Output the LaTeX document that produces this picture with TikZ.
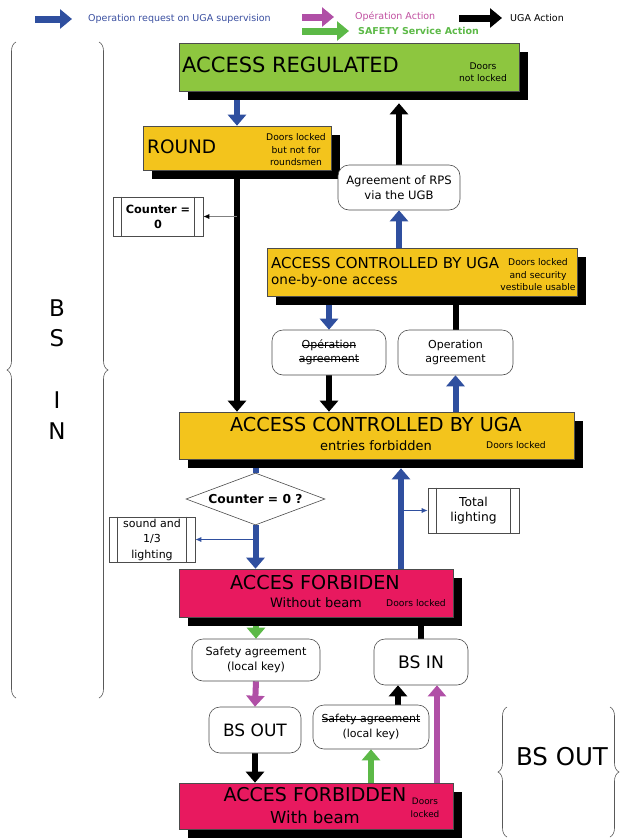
\documentclass[tikz,border=0pt]{standalone}
\usepackage{fontspec}
\setmainfont{DejaVu Sans}
\usepackage{tikz}
\usetikzlibrary{arrows.meta, calc, shadows, shapes.geometric, decorations.pathreplacing}
\definecolor{regreen}{HTML}{8DC63F}
\definecolor{rndyel}{HTML}{F3C41C}
\definecolor{forbpink}{HTML}{E8195F}
\definecolor{arrblue}{HTML}{2F4F9F}
\definecolor{arrpurp}{HTML}{B04FA6}
\definecolor{arrgreen}{HTML}{5CB947}
\definecolor{legblue}{HTML}{3A4FA0}
\definecolor{legpurp}{HTML}{C04FA0}
\newcommand{\setfs}[2]{\fontsize{#1}{#2}\selectfont}
\newlength{\strkw}
\newcommand{\strk}[1]{\settowidth{\strkw}{#1}\rlap{\rule[0.3em]{\strkw}{0.6pt}}#1}
\pgfdeclarelayer{back}
\pgfsetlayers{back,main}

\begin{document}
\begin{tikzpicture}[x=1pt, y=-1pt,
    statebox/.style n args={3}{draw=gray!60!black, line width=0.6pt, fill=#1, minimum width=#2, minimum height=#3, inner sep=0pt,
      drop shadow={shadow xshift=9pt, shadow yshift=-9pt, fill=black, opacity=1}},
    rbox/.style 2 args={draw=gray!60!black, line width=0.6pt, fill=white, rounded corners=11pt, minimum width=#1, minimum height=#2, inner sep=0pt, align=center},
    pbox/.style 2 args={draw=gray!60!black, line width=0.6pt, fill=white, minimum width=#1, minimum height=#2, inner sep=0pt, align=center},
    dia/.style={diamond, aspect=2.7, draw=gray!60!black, line width=0.6pt, fill=white, minimum width=139pt, minimum height=52pt, inner sep=0pt},
    ttl/.style={inner sep=0pt},
    note/.style={inner sep=0pt, align=center, font=\setfs{9.2}{12.5}},
    lgtext/.style={inner sep=0pt, anchor=west, font=\setfs{9.5}{12}},
    legarr/.style={line width=7pt, -{Triangle[width=19pt,length=12pt]}},
    bluearr/.style={draw=arrblue, line width=6pt, -{Triangle[width=18pt,length=11pt]}},
    blackarr/.style={draw=black, line width=6pt, -{Triangle[width=18pt,length=11pt]}},
    purparr/.style={draw=arrpurp, line width=6pt, -{Triangle[width=18pt,length=11pt]}},
    greenarr/.style={draw=arrgreen, line width=6pt, -{Triangle[width=18pt,length=11pt]}},
    blueline/.style={draw=arrblue, line width=6pt},
    blackline/.style={draw=black, line width=6pt},
    thinarr/.style={draw=gray, line width=0.8pt, -{Latex[length=6pt,width=5pt,color=black]}},
    thinblue/.style={draw=arrblue, line width=0.8pt, -{Latex[length=6pt,width=5pt]}},
    brc/.style={draw=gray!70!black, line width=0.6pt, decorate, decoration={brace, amplitude=9pt}},
    bigl/.style={inner sep=0pt, font=\setfs{23}{26}}]
  \useasboundingbox (0,0) rectangle (620,839);

  % legend
  \node[lgtext, text=legblue] (lgblue) at (88,19) {Operation request on UGA supervision};
  \node[lgtext, text=legpurp] (lgpurp) at (355,17) {Opération Action};
  \node[lgtext, text=arrgreen, font=\bfseries\setfs{9.5}{12}] (lggreen) at (358,31) {SAFETY Service Action};
  \node[lgtext] (lgblack) at (510,18) {UGA Action};
  \draw[legarr, arrblue] ([xshift=-53pt]lgblue.west) -- ([xshift=-16pt]lgblue.west);
  \draw[legarr, arrpurp] ([xshift=-53pt]lgpurp.west) -- ([xshift=-21pt]lgpurp.west);
  \draw[legarr, arrgreen] ([xshift=-56pt]lggreen.west) -- ([xshift=-9pt]lggreen.west);
  \draw[legarr, black] ([xshift=-51pt]lgblack.west) -- ([xshift=-8pt]lgblack.west);

  % states
  \node[statebox={regreen}{340pt}{48pt}] (reg) at (349,67) {};
  \node[ttl, anchor=west, font=\setfs{21}{24}] (regT) at (182,65) {ACCESS REGULATED};
  \node[note] (regN) at (483,72) {Doors\\not locked};

  \node[statebox={rndyel}{188pt}{44pt}] (round) at (237,148) {};
  \node[ttl, anchor=west, font=\setfs{18.5}{22}] (roundT) at (147,147) {ROUND};
  \node[note] (roundN) at (296,150) {Doors locked\\but not for\\roundsmen};

  \node[rbox={122pt}{45pt}, font=\setfs{11.6}{15}] (agr) at (399,187.5) {Agreement of RPS\\via the UGB};
  \node[pbox={90pt}{39pt}, font=\bfseries\setfs{11.3}{15}] (cnt) at (158,216.5) {Counter =\\0};

  \node[statebox={rndyel}{310pt}{48pt}] (obo) at (422,272) {};
  \node[ttl, anchor=west, font=\setfs{15}{17}] (oboT) at (271,263) {ACCESS CONTROLLED BY UGA};
  \node[ttl, anchor=west, font=\setfs{13.5}{16}] (oboS) at (271,281) {one-by-one access};
  \node[note] (oboN) at (538,275) {Doors locked\\and security\\vestibule usable};

  \node[rbox={114pt}{45pt}, font=\setfs{11}{14}] (opa1) at (329,352.5) {\strk{Opération}\\\strk{agreement}};
  \node[rbox={115pt}{45pt}, font=\setfs{11}{14}] (opa2) at (455.5,352.5) {Operation\\agreement};

  \node[statebox={rndyel}{395pt}{47pt}] (ef) at (376.5,435.5) {};
  \node[ttl, font=\setfs{19.2}{23}] (efT) at (376,425) {ACCESS CONTROLLED BY UGA};
  \node[ttl, font=\setfs{13}{16}] (efS) at (376,446) {entries forbidden};
  \node[note] (efN) at (516,445) {Doors locked};

  \node[dia, font=\bfseries\setfs{12.3}{15}] (dia) at (255.5,499) {Counter = 0 ?};
  \node[pbox={86pt}{45pt}, font=\setfs{11}{15.5}] (snd) at (152,539.5) {sound and\\1/3\\lighting};
  \node[pbox={91pt}{45pt}, font=\setfs{12.3}{14.5}] (tot) at (473.5,510.5) {Total\\lighting};
  \foreach \b in {cnt,snd,tot} {
    \draw[gray!60!black, line width=0.6pt] ([xshift=9pt]\b.north west) -- ([xshift=9pt]\b.south west);
    \draw[gray!60!black, line width=0.6pt] ([xshift=-9pt]\b.north east) -- ([xshift=-9pt]\b.south east);
  }

  \node[statebox={forbpink}{274pt}{48pt}] (af1) at (316,593) {};
  \node[ttl, font=\setfs{19.2}{23}] (af1T) at (315,583) {ACCES FORBIDEN};
  \node[ttl, font=\setfs{13}{16}] (af1S) at (316,603) {Without beam};
  \node[note] (af1N) at (416,603) {Doors locked};

  \node[rbox={128pt}{42pt}, font=\setfs{11.2}{15}] (ss1) at (256,660) {Safety agreement\\(local key)};
  \node[rbox={94pt}{46pt}, font=\setfs{17.2}{20}] (bsin) at (421,662) {BS IN};
  \node[rbox={92pt}{46pt}, font=\setfs{17}{20}] (bsout) at (255,730) {BS OUT};
  \node[rbox={116pt}{44pt}, font=\setfs{11}{15}] (ss2) at (371,727) {\strk{Safety agreement}\\(local key)};

  \node[statebox={forbpink}{274pt}{46pt}] (af2) at (316,806) {};
  \node[ttl, font=\setfs{19}{23}] (af2T) at (315,795) {ACCES FORBIDDEN};
  \node[ttl, font=\setfs{16.5}{20}] (af2S) at (315,817) {With beam};
  \node[note, font=\setfs{8.9}{13}] (af2N) at (425,807.5) {Doors\\locked};

  % braces
  \draw[brc] (16,698) -- (16,42);
  \draw[brc] (99,42) -- (99,698);
  \foreach \c/\y [count=\i] in {B/308,S/338,I/400,N/431}
    \node[bigl] (bsinL\i) at (57,\y) {\c};
  \draw[brc] (507,837) -- (507,707);
  \draw[brc] (610,707) -- (610,837);
  \node[inner sep=0pt, font=\setfs{24.5}{28}] (bsoutL) at (562,757) {BS OUT};

  % connectors
  \begin{pgfonlayer}{back}
    \draw[bluearr] (reg.south -| round.north) -- (round.north);
    \draw[blackarr] (agr.north) -- ($(agr.north |- reg.south)+(0,12)$);
    \draw[bluearr] (agr.south |- obo.north) -- (agr.south);
    \draw[blackarr] (round.south) -- (round.south |- ef.north);
    \draw[thinarr] (cnt.east -| round.south) -- (cnt.east);
    \draw[bluearr] (opa1.north |- obo.south) -- (opa1.north);
    \draw[blackline] (opa2.north) -- (opa2.north |- obo.south);
    \draw[blackarr] (opa1.south) -- (opa1.south |- ef.north);
    \draw[bluearr] (opa2.south |- ef.north) -- (opa2.south);
    \draw[blueline] (dia.north |- ef.south) -- (dia.north);
    \draw[bluearr] (dia.south) -- (dia.south |- af1.north);
    \draw[thinblue] (snd.east -| dia.south) -- (snd.east);
    \coordinate (upA) at ($(af1.north)+(85,0)$);
    \draw[bluearr] (upA) -- ($(upA |- ef.south)+(0,9)$);
    \draw[thinblue] (tot.west -| upA) -- (tot.west);
    \draw[greenarr] (ss1.north |- af1.south) -- (ss1.north);
    \draw[purparr] (ss1.south) -- (bsout.north);
    \draw[blackline] (bsin.north) -- (bsin.north |- af1.south);
    \draw[blackarr] (bsout.south) -- (bsout.south |- af2.north);
    \draw[greenarr] (ss2.south |- af2.north) -- (ss2.south);
    \coordinate (bsinA) at ($(bsin.south)+(-23,0)$);
    \coordinate (bsinB) at ($(bsin.south)+(16,0)$);
    \draw[blackarr] (ss2.north -| bsinA) -- (bsinA);
    \draw[purparr] (bsinB |- af2.north) -- (bsinB);
  \end{pgfonlayer}
\end{tikzpicture}
\end{document}
